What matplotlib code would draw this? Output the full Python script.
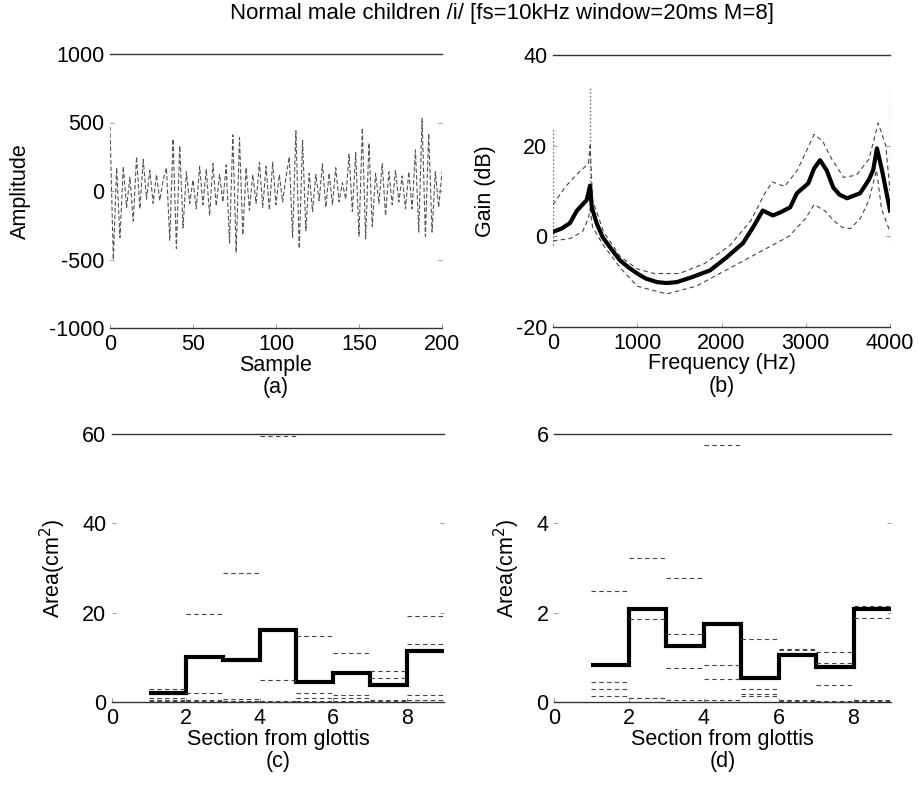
import matplotlib
matplotlib.use("Agg")
import matplotlib.pyplot as plt
import numpy as np

plt.rcParams['font.family'] = ['Liberation Sans', 'DejaVu Sans']
plt.rcParams['axes.unicode_minus'] = False

# ---------------- data ----------------
title = "Normal male children /i/ [fs=10kHz window=20ms M=8]"

# (a) speech frame, every 2nd sample
a_samples = list(range(0, 201, 2))
a_amp = [470, -500, 170, -340, 180, -120, 100, -220, 250, -130,
         230, -60, 150, -90, 120, -70, 80, 170, -360, 380,
         -420, 330, -270, 140, -90, 80, -130, 180, -100, 160,
         -180, 200, -110, 120, -80, 190, -380, 410, -450, 390,
         -320, 170, -140, 120, -90, 210, -120, 180, -140, 210,
         -100, 120, -80, 100, 250, -340, 440, -420, 370, -290,
         130, -150, 120, -70, 200, -120, 130, -100, 170, -80,
         60, -60, 270, -150, 280, -330, 460, -350, 350, -260,
         130, -90, 200, -180, 140, -100, 150, -80, 110, -130,
         140, -130, 300, -300, 530, -330, 420, -300, 140, -120,
         140]

# (b) LPC spectra: mean and spread
b_freq_mean = [0, 100, 200, 285, 400, 440, 460, 520, 590, 700, 795, 900, 1000,
               1100, 1235, 1350, 1470, 1650, 1865, 2050, 2255, 2375, 2490,
               2610, 2700, 2815, 2895, 3030, 3100, 3170, 3250, 3325, 3400,
               3490, 3645, 3750, 3800, 3845, 3905, 4000]
b_gain_mean = [1, 1.7, 2.9, 5.7, 8, 11.2, 6.4, 2.8, -0.2, -3.0, -5.3, -6.9, -8.2,
               -9.3, -10.1, -10.3, -10.1, -9.0, -7.5, -4.8, -1.5, 2, 5.7,
               4.6, 5.3, 6.4, 9.5, 11.7, 15, 16.8, 14.5, 10.8, 9.2,
               8.4, 9.5, 12.5, 14.6, 19.4, 14.6, 5.7]
b_freq_up = [0, 150, 300, 420, 440, 470, 600, 800, 1000, 1200, 1500, 1800,
             2100, 2350, 2500, 2600, 2750, 2900, 3000, 3100, 3200, 3310, 3450,
             3600, 3750, 3860, 3950, 4000]
b_gain_up = [7, 11, 14, 16, 20, 8, 1, -4.5, -7.2, -8.2, -8.2, -6,
             -2, 3.5, 9, 12, 11, 14.6, 18.5, 22.5, 21, 17, 13,
             13.5, 17, 25, 20, 10]
b_freq_lo = [0, 200, 350, 420, 440, 470, 600, 800, 1000, 1350, 1700, 2100,
             2500, 2800, 3000, 3100, 3230, 3330, 3430, 3530, 3650, 3750, 3840,
             3900, 4000]
b_gain_lo = [-1, -0.5, 1, 4, 6, 2, -2, -7, -11, -12.7, -11, -7,
             -3, 0, 4, 7, 5.6, 3.5, 2, 1.7, 4, 8, 14.6, 6, 1]
b_spike_f = [0, 440, 4000]
b_spike_lo = [-2, 8, -1]
b_spike_hi = [24, 33, 33]

# (c) area functions, cm^2 (sections 1..8)
c_mean = [2.0, 10.1, 9.4, 16.1, 4.5, 6.5, 3.8, 11.4]
c_frames = [
    [3.0, 19.8, 28.8, 59.5, 14.8, 11.0, 7.0, 19.2],
    [1.0, 2.0, 0.6, 5.0, 2.0, 1.5, 5.3, 13.0],
    [0.5, 0.5, 0.3, 0.3, 0.8, 0.9, 0.4, 1.5],
    [0.2, 0.2, 0.2, 0.1, 0.2, 0.3, 0.2, 0.5],
]

# (d) normalized area functions
d_mean = [0.83, 2.08, 1.26, 1.74, 0.54, 1.05, 0.79, 2.08]
d_frames = [
    [2.48, 3.22, 2.77, 5.75, 1.42, 1.17, 1.13, 2.15],
    [0.45, 1.85, 1.52, 0.83, 0.30, 1.18, 0.87, 1.88],
    [0.30, 0.10, 0.76, 0.51, 0.18, 0.05, 0.37, 0.05],
    [0.13, 0.10, 0.05, 0.05, 0.13, 0.03, 0.03, 0.03],
]
sections = list(range(1, 10))

# ---------------- figure ----------------
W, H = 919, 787
fig = plt.figure(figsize=(W / 100, H / 100), dpi=100)


def px_axes(l, r, t, b):
    return fig.add_axes([l / W, 1 - b / H, (r - l) / W, (b - t) / H])


def style(ax):
    for s in ('left', 'right'):
        ax.spines[s].set_visible(False)
    for s in ('top', 'bottom'):
        ax.spines[s].set_color('#333333')
        ax.spines[s].set_linewidth(1.0)
    ax.tick_params(direction='in', length=3, width=0.6, color='#888888',
                   labelsize=15.5, pad=4, right=True)


def labels(ax, xl, yl, tag, ylx):
    pos = ax.get_position()
    xc = (pos.x0 + pos.x1) / 2
    yb = pos.y0
    fig.text(xc, yb - 37 / H, xl, ha='center', va='center', fontsize=15.5)
    fig.text(xc, yb - 59 / H, tag, ha='center', va='center', fontsize=15.5)
    fig.text(ylx / W, (pos.y0 + pos.y1) / 2, yl, ha='center', va='center',
             rotation=90, fontsize=15.5)


fig.text(502 / W, 1 - 14 / H, title, ha='center', va='center', fontsize=16)

# (a)
ax = px_axes(110, 442, 54, 328)
ax.plot(a_samples, a_amp, ls=(0, (4, 2)), color='#555555', lw=0.8)
ax.set_xlim(0, 200)
ax.set_ylim(-1000, 1000)
ax.set_xticks([0, 50, 100, 150, 200])
ax.set_yticks([-1000, -500, 0, 500, 1000])
style(ax)
labels(ax, "Sample", "Amplitude", "(a)", 20)

# (b)
ax = px_axes(553, 890, 55, 327)
ax.plot(b_freq_up, b_gain_up, ls=(0, (4, 3)), color='#444444', lw=0.8)
ax.plot(b_freq_lo, b_gain_lo, ls=(0, (4, 3)), color='#444444', lw=0.8)
ax.vlines(b_spike_f, b_spike_lo, b_spike_hi, linestyles=':', colors='#666666',
          lw=1.0)
ax.plot(b_freq_mean, b_gain_mean, color='black', lw=3, solid_joinstyle='round')
ax.set_xlim(0, 4000)
ax.set_ylim(-20, 40)
ax.set_xticks([0, 1000, 2000, 3000, 4000])
ax.set_yticks([-20, 0, 20, 40])
style(ax)
labels(ax, "Frequency (Hz)", "Gain (dB)", "(b)", 485)

# (c)
ax = px_axes(112, 444, 434, 702)
for fr in c_frames:
    ax.hlines(fr, sections[:-1], sections[1:], linestyles=(0, (4, 3)),
              colors='#444444', lw=0.8)
ax.stairs(c_mean, sections, color='black', lw=3, baseline=None)
ax.set_xlim(0, 9)
ax.set_ylim(0, 60)
ax.set_xticks([0, 2, 4, 6, 8])
ax.set_yticks([0, 20, 40, 60])
style(ax)
labels(ax, "Section from glottis", "Area(cm$^2$)", "(c)", 53)

# (d)
ax = px_axes(554, 891, 434, 702)
for fr in d_frames:
    ax.hlines(fr, sections[:-1], sections[1:], linestyles=(0, (4, 3)),
              colors='#444444', lw=0.8)
ax.stairs(d_mean, sections, color='black', lw=3, baseline=None)
ax.set_xlim(0, 9)
ax.set_ylim(0, 6)
ax.set_xticks([0, 2, 4, 6, 8])
ax.set_yticks([0, 2, 4, 6])
style(ax)
labels(ax, "Section from glottis", "Area(cm$^2$)", "(d)", 507)

fig.savefig("out.png", dpi=100)
